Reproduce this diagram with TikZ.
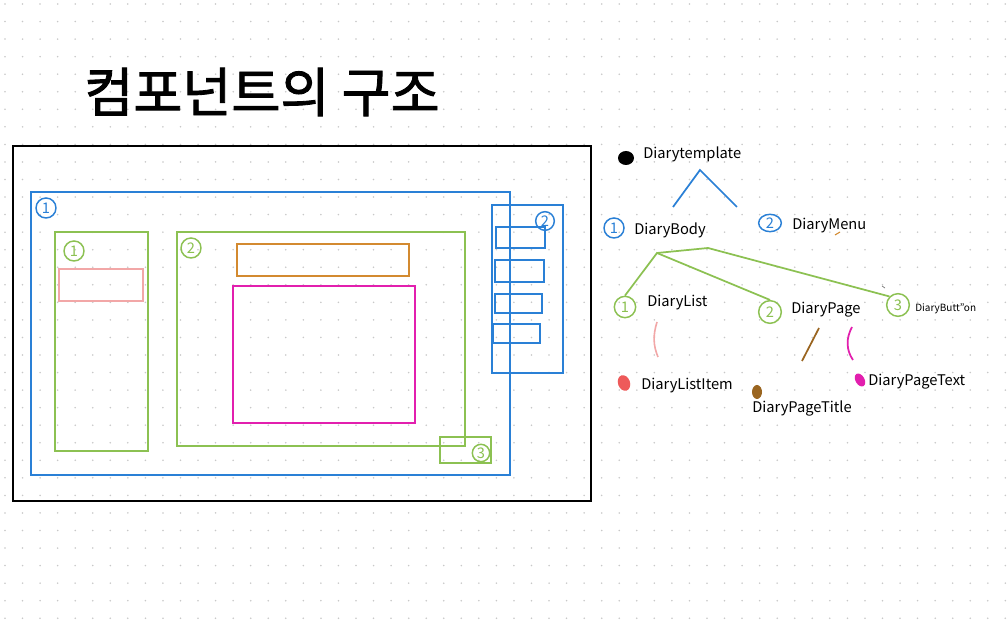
\documentclass[tikz,border=0pt]{standalone}
\usepackage{fontspec}
\usetikzlibrary{shapes.geometric}
\setmainfont{Noto Sans CJK KR}
\newfontfamily\kr[FakeBold=1.6]{Noto Sans CJK KR}
\definecolor{cblue}{HTML}{2A80D6}
\definecolor{cgreen}{HTML}{8CC152}
\definecolor{cpink}{HTML}{F2A7A7}
\definecolor{corange}{HTML}{D38A30}
\definecolor{cmag}{HTML}{E21FAE}
\definecolor{cbrown}{HTML}{9A6520}
\definecolor{cred}{HTML}{EE5A5A}
\definecolor{cdot}{HTML}{C8C8C8}
\begin{document}
\begin{tikzpicture}[x=0.75pt,y=-0.75pt,
  box/.style={line width=1.5pt},
  cnum/.style={circle,draw,line width=1.1pt,inner sep=0pt,minimum size=15pt,font=\fontsize{11}{11}\selectfont},
  lab/.style={anchor=west,inner sep=0pt,font=\fontsize{11}{12}\selectfont},
  tline/.style={line width=1.3pt}]
\useasboundingbox (0,0) rectangle (1008,630);
\fill[white] (0,0) rectangle (1008,630);
% dot grid
\foreach \i in {0,...,57}{\foreach \j in {0,...,36}{
  \fill[cdot] (5+\i*17.55,4+\j*17.55) circle (0.65pt);}}
% title
\node[anchor=west,inner sep=0pt,font=\kr\fontsize{40}{40}\selectfont] (title) at (84,92) {컴포넌트의 구조};
% left sketch
\draw[box,black] (13,146) rectangle (591,501);
\draw[box,cblue] (31,192) rectangle (510,475);
\node[cnum,draw=cblue,text=cblue] (n1) at (46,208) {1};
\draw[box,cgreen] (55,232) rectangle (148,451);
\node[cnum,draw=cgreen,text=cgreen] (n11) at (74,251) {1};
\draw[box,cpink] (59,269) rectangle (143,301);
\draw[box,cgreen] (177,232) rectangle (465,446);
\node[cnum,draw=cgreen,text=cgreen] (n12) at (191,248) {2};
\draw[box,corange] (237,244) rectangle (409,276);
\draw[box,cmag] (233,286) rectangle (415,423);
\draw[box,cgreen] (440,437) rectangle (491,463);
\node[cnum,draw=cgreen,text=cgreen,minimum size=13pt] (n13) at (481,453) {3};
\draw[box,cblue] (492,205) rectangle (563,373);
\node[cnum,draw=cblue,text=cblue,minimum size=14pt] (n2) at (545,221) {2};
\draw[box,cblue] (496,227) rectangle (545,248);
\draw[box,cblue] (495,260) rectangle (544,282);
\draw[box,cblue] (495,294) rectangle (542,313);
\draw[box,cblue] (493,324) rectangle (540,343);
% tree
\fill[black] (626,158) ellipse (8 and 7);
\node[lab] (tpl) at (643,154) {Diarytemplate};
\node[cnum,draw=cblue,text=cblue] (cb) at (614,228) {1};
\node[lab] (body) at (634,230) {DiaryBody};
\node[cnum,draw=cblue,text=cblue,ellipse,minimum width=17pt,minimum height=13pt] (cm) at (770,223) {2};
\node[lab] (menu) at (792,226) {DiaryMenu};
\coordinate (apex) at (700,170);
\coordinate (bl) at (673,207);
\coordinate (br) at (737,207);
\draw[tline,cblue] (bl) -- (apex) -- (br);
\draw[corange,line width=0.8pt] (835,235) -- (840,232);
\node[cnum,draw=cgreen,text=cgreen,minimum size=16pt] (gl) at (625,307) {1};
\node[lab] (list) at (647,303) {DiaryList};
\node[cnum,draw=cgreen,text=cgreen,minimum size=17pt] (gp) at (770,312) {2};
\node[lab] (page) at (791,310) {DiaryPage};
\node[cnum,draw=cgreen,text=cgreen,minimum size=17pt] (gb) at (898,305) {3};
\node[lab,font=\fontsize{7.5}{9}\selectfont] (butt) at (915,309) {DiaryButt"on};
\coordinate (ga) at (657,253);
\coordinate (gbend) at (708,248);
\draw[tline,cgreen] (gl.north) -- (ga) -- (gp.north);
\draw[tline,cgreen] (ga) -- (gbend) -- (gb.north west);
\draw[gray,line width=0.6pt] (882,286) -- (885,288);
\fill[cred,rotate around={20:(624,383)}] (624,383) ellipse (6 and 8);
\node[lab] (item) at (641,386) {DiaryListItem};
\fill[cbrown] (757,392) ellipse (5 and 7);
\node[lab] (ptitle) at (752,408) {DiaryPageTitle};
\fill[cmag,rotate around={30:(860,380)}] (860,380) ellipse (4.5 and 7);
\node[lab] (ptext) at (868,382) {DiaryPageText};
\coordinate (pk1) at (657,322);
\coordinate (pk2) at (658,357);
\draw[cpink,line width=1.2pt] (pk1) .. controls (653,335) and (653,345) .. (pk2);
\coordinate (br1) at (819,328);
\coordinate (br2) at (802,361);
\draw[cbrown,line width=1.3pt] (br1) -- (br2);
\coordinate (mg1) at (852,327);
\coordinate (mg2) at (853,360);
\draw[cmag,line width=1.3pt] (mg1) .. controls (846,338) and (846,350) .. (mg2);
\end{tikzpicture}
\end{document}
